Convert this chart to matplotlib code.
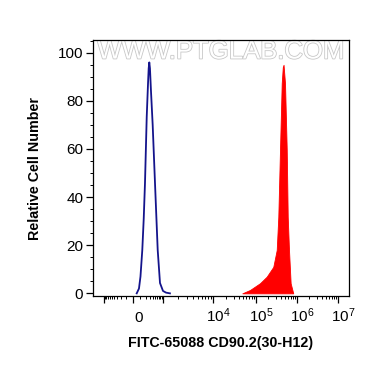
import numpy as np
import matplotlib
matplotlib.use("Agg")
import matplotlib.pyplot as plt
import matplotlib.ticker as mticker
import matplotlib.transforms as mtransforms
import matplotlib.patheffects as pe

plt.rcParams['font.family'] = ['Liberation Sans', 'DejaVu Sans']
plt.rcParams['mathtext.fontset'] = 'custom'
plt.rcParams['mathtext.rm'] = 'Liberation Sans'
plt.rcParams['mathtext.it'] = 'Liberation Sans'

# control (isotype) histogram, blue line
blue_x = [49, 81, 104, 134, 160, 185, 223, 255, 272, 289, 308, 340, 398, 492, 627, 768, 1000, 1150, 1380]
blue_y = [0, 2.0, 7.0, 18.0, 31.0, 45.8, 73.4, 87.4, 93.5, 96.0, 93.5, 84.0, 70.0, 45.8, 18.0, 4.3, 1.0, 0.3, 0.0]

# FITC-65088 CD90.2 stained, red fill
red_x = [48000, 72500, 125000, 182000, 264000, 320000, 350000, 385000, 424000, 450000, 470000,
         510000, 562000, 594000, 638000, 700000, 810000]
red_y = [0, 1.4, 4.2, 6.9, 11.0, 18.0, 31.8, 59.6, 87.3, 94.0, 95.0,
         87.3, 59.6, 31.8, 18.0, 4.2, 0]

major_ticks = [-1e3, 0, 1e3, 1e4, 1e5, 1e6, 1e7]
major_labels = ['', '0', '', r'$10^4$', r'$10^5$', r'$10^6$', r'$10^7$']

# biexponential-like axis (anchors in pixel units of the original display)
anch_x = np.array([-1e5, -1e4, -1e3, 0, 1e3, 1e4, 1e5, 1e6, 1e7, 1e8])
anch_p = np.array([4, 54, 104, 133, 163, 213, 256, 297, 338, 379])
anch_u = np.arcsinh(anch_x / 150.0)


def fwd(x):
    return np.interp(np.arcsinh(np.asarray(x, dtype=float) / 150.0), anch_u, anch_p)


def inv(p):
    return 150.0 * np.sinh(np.interp(np.asarray(p, dtype=float), anch_p, anch_u))


fig = plt.figure(figsize=(3.7, 3.67), dpi=100)
ax = fig.add_axes([93 / 370, 1 - 296 / 367, 256 / 370, 256 / 367])
ax.set_xscale('function', functions=(fwd, inv))

ax.fill_between(red_x, red_y, color='#ff0000', lw=0.6, zorder=2)
ax.plot(blue_x, blue_y, color='#14148c', lw=1.3, zorder=3)

ax.set_xlim(inv(93), inv(349))
ax.set_ylim(-1.1, 105.3)

ax.xaxis.set_major_locator(mticker.FixedLocator(major_ticks))
ax.xaxis.set_major_formatter(mticker.FixedFormatter(major_labels))
minor = [s * m * 10 ** k for s in (-1, 1) for k in (2,) for m in range(1, 10)]
minor += [m * 10 ** k for k in (3, 4, 5, 6) for m in range(2, 10)]
ax.xaxis.set_minor_locator(mticker.FixedLocator(minor))
ax.yaxis.set_major_locator(mticker.MultipleLocator(20))
ax.yaxis.set_minor_locator(mticker.MultipleLocator(5))

ax.tick_params(axis='both', which='major', direction='out', length=5, width=0.9, labelsize=11)
ax.tick_params(axis='both', which='minor', direction='out', length=2.5, width=0.7)
ax.tick_params(axis='x', which='major', pad=14)
ax.tick_params(axis='y', which='major', pad=2)

off = mtransforms.ScaledTranslation(4 / 72, 0, fig.dpi_scale_trans)
for lab in ax.get_xticklabels():
    lab.set_transform(lab.get_transform() + off)
    lab.set_va('baseline')

for sp in ax.spines.values():
    sp.set_linewidth(0.9)
    sp.set_color('black')

ax.set_ylabel('Relative Cell Number', fontsize=10.3, fontweight='bold', labelpad=11)
ax.set_xlabel('FITC-65088 CD90.2(30-H12)', fontsize=10.3, fontweight='bold', labelpad=8)

ax.text(0.5, 0.955, 'WWW.PTGLAB.COM', transform=ax.transAxes, ha='center', va='center',
        fontsize=18.5, color='white', zorder=1,
        path_effects=[pe.withStroke(linewidth=1.2, foreground='#c8c8c8')])

fig.savefig('out.png', dpi=100)
